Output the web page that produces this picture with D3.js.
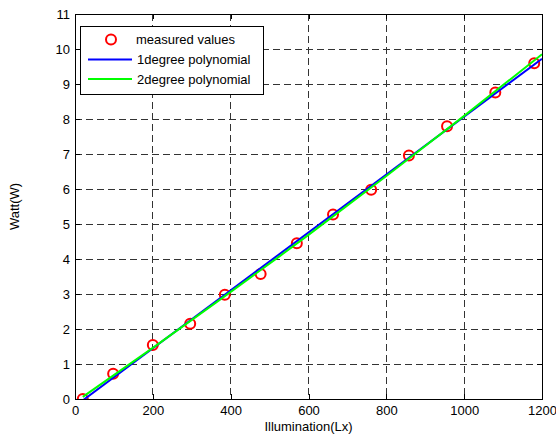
<!DOCTYPE html>
<head>
<meta charset="utf-8">
<script src="https://d3js.org/d3.v7.min.js"></script>
<style>
  body { margin: 0; background: #fff; }
  text { font-family: "Liberation Sans", Arial, sans-serif; }
</style>
</head>
<body>
<div id="chart"></div>
<script>

// measured points
var lux = [20, 98, 200, 296, 385, 477, 570, 663, 761, 858, 956, 1080, 1180];
var watt = [0, 0.72, 1.54, 2.15, 2.98, 3.57, 4.45, 5.27, 5.98, 6.96, 7.79, 8.76, 9.59];

// fitted lines
var fit1X = [20, 1200];
var fit1Y = [-0.04, 9.72];
var fit2X = [20, 200, 400, 600, 800, 1000, 1200];
var fit2Y = [0.06, 1.46, 3.06, 4.69, 6.37, 8.09, 9.85];

// ticks and labels
var xTicks = [0, 200, 400, 600, 800, 1000, 1200];
var yTicks = [0, 1, 2, 3, 4, 5, 6, 7, 8, 9, 10, 11];
var legendLabels = ["measured values", "1degree polynomial", "2degree polynomial"];

var width = 556,
    height = 438;
var margin = {left: 75, right: 14, top: 14, bottom: 39};
var w = width - margin.left - margin.right,
    h = height - margin.top - margin.bottom;

var svg = d3.select("#chart")
    .append("svg")
    .attr("width", width)
    .attr("height", height);

var g = svg.append("g")
    .attr("transform", "translate(" + margin.left + "," + margin.top + ")");

var x = d3.scaleLinear().domain([0, 1200]).range([0, w]);
var y = d3.scaleLinear().domain([0, 11]).range([h, 0]);

// dashed grid
g.append("g")
    .selectAll("line")
    .data(xTicks.slice(1, -1))
    .enter().append("line")
    .attr("x1", d => x(d)).attr("x2", d => x(d))
    .attr("y1", 0).attr("y2", h)
    .attr("stroke", "#333")
    .attr("shape-rendering", "crispEdges")
    .attr("stroke-dasharray", "7,4");

g.append("g")
    .selectAll("line")
    .data(yTicks.slice(1, -1))
    .enter().append("line")
    .attr("x1", 0).attr("x2", w)
    .attr("y1", d => y(d)).attr("y2", d => y(d))
    .attr("stroke", "#333")
    .attr("shape-rendering", "crispEdges")
    .attr("stroke-dasharray", "7,4");

// clip for the lines
svg.append("defs").append("clipPath")
    .attr("id", "plotclip")
    .append("rect")
    .attr("width", w).attr("height", h);

var plot = g.append("g").attr("clip-path", "url(#plotclip)");

// measured values
plot.selectAll("circle")
    .data(lux)
    .enter().append("circle")
    .attr("cx", d => x(d))
    .attr("cy", (d, i) => y(watt[i]))
    .attr("r", 5)
    .attr("fill", "none")
    .attr("stroke", "#ff0000")
    .attr("stroke-width", 2);

var line = d3.line()
    .x(d => x(d[0]))
    .y(d => y(d[1]));

plot.append("path")
    .attr("d", line(fit1X.map((d, i) => [d, fit1Y[i]])))
    .attr("fill", "none")
    .attr("stroke", "#0000ff")
    .attr("stroke-width", 2);

plot.append("path")
    .attr("d", line.curve(d3.curveNatural)(fit2X.map((d, i) => [d, fit2Y[i]])))
    .attr("fill", "none")
    .attr("stroke", "#00ff00")
    .attr("stroke-width", 2);

// axes, ticks pointing inward
function styleAxis(sel) {
    sel.selectAll("path").attr("stroke", "#000").attr("shape-rendering", "crispEdges");
    sel.selectAll("line").attr("stroke", "#000").attr("shape-rendering", "crispEdges");
    sel.selectAll("text")
        .attr("fill", "#000")
        .style("font-size", "13px")
        .style("font-family", "'Liberation Sans', Arial, sans-serif");
}

g.append("g")
    .attr("transform", "translate(0," + h + ")")
    .call(d3.axisBottom(x).tickValues(xTicks).tickFormat(d3.format("d"))
        .tickSize(-5).tickSizeOuter(0).tickPadding(7))
    .call(styleAxis);

g.append("g")
    .call(d3.axisTop(x).tickValues(xTicks).tickSize(-5).tickSizeOuter(0).tickFormat(""))
    .call(styleAxis);

g.append("g")
    .call(d3.axisLeft(y).tickValues(yTicks).tickSize(-5).tickSizeOuter(0).tickPadding(5))
    .call(styleAxis);

g.append("g")
    .attr("transform", "translate(" + w + ",0)")
    .call(d3.axisRight(y).tickValues(yTicks).tickSize(-5).tickSizeOuter(0).tickFormat(""))
    .call(styleAxis);

// axis titles
svg.append("text")
    .attr("x", margin.left + w / 2)
    .attr("y", 431)
    .attr("text-anchor", "middle")
    .style("font-size", "13px")
    .text("Illumination(Lx)");

svg.append("text")
    .attr("transform", "translate(19," + (margin.top + h / 2) + ") rotate(-90)")
    .attr("text-anchor", "middle")
    .style("font-size", "13px")
    .text("Watt(W)");

// legend
var legend = svg.append("g").attr("transform", "translate(80,26)");

legend.append("rect")
    .attr("width", 183)
    .attr("height", 68)
    .attr("fill", "#fff")
    .attr("stroke", "#000")
    .attr("shape-rendering", "crispEdges");

var rowY = [13.5, 33.5, 53];

legend.append("circle")
    .attr("cx", 31).attr("cy", rowY[0])
    .attr("r", 5)
    .attr("fill", "none")
    .attr("stroke", "#ff0000")
    .attr("stroke-width", 2);

legend.append("line")
    .attr("x1", 8).attr("x2", 52)
    .attr("y1", rowY[1]).attr("y2", rowY[1])
    .attr("stroke", "#0000ff").attr("stroke-width", 2);

legend.append("line")
    .attr("x1", 8).attr("x2", 52)
    .attr("y1", rowY[2]).attr("y2", rowY[2])
    .attr("stroke", "#00ff00").attr("stroke-width", 2);

legend.selectAll(".label")
    .data(legendLabels)
    .enter().append("text")
    .attr("class", "label")
    .attr("x", (d, i) => i == 0 ? 56 : 57)
    .attr("y", (d, i) => rowY[i] + 4.5)
    .style("font-size", "13px")
    .text(d => d);

</script>
</body>
